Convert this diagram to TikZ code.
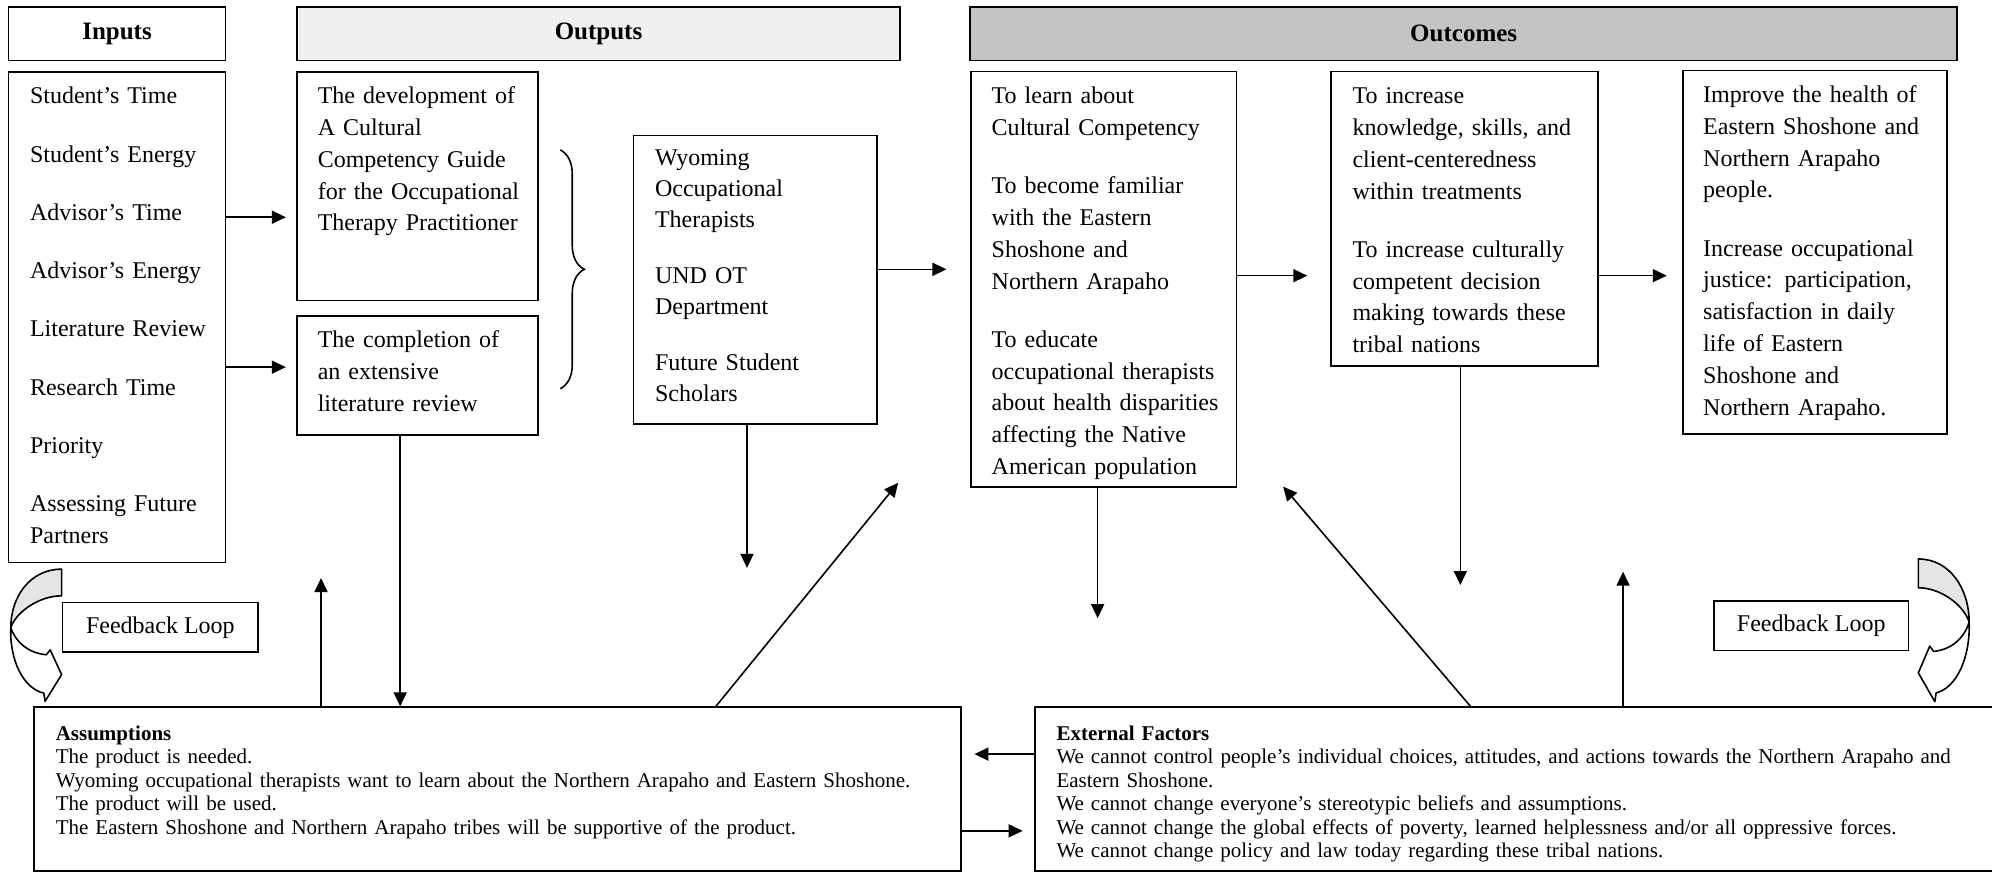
\documentclass[tikz,border=0pt]{standalone}
\usepackage{fontspec}
\setmainfont{Liberation Serif}
\usetikzlibrary{arrows.meta,decorations.pathreplacing}
\newdimen\pxu
\pxu=0.635pt
\tikzset{feedback/.pic={
   \draw[loopback, fill=black!10] (0,0) .. controls (-25,0) and (-40,22) .. (-40,46)
      .. controls (-36,34) and (-18,21) .. (0,21) -- cycle;
   \draw[loopback, fill=white] (-40,46) .. controls (-41,72) and (-30,94) .. (-14,97.6)
      -- (-13,104) -- (0,83) -- (-9,63.5) -- (-12,67.4)
      .. controls (-26,66) and (-36,58) .. (-40,46) -- cycle;
}}
\begin{document}
\begin{tikzpicture}[
   x=0.635pt, y=-0.635pt,
   hdr/.style={draw, line width=0.8pt, anchor=north west, inner sep=0pt,
      font=\fontsize{12.5}{15}\selectfont\bfseries},
   box/.style={draw, line width=0.8pt, anchor=north west, inner ysep=0pt,
      align=left, font=\fontsize{12}{15.9}\selectfont,
      execute at begin node={\rightskip=-40pt plus 1fil\relax}},
   note/.style={draw, line width=0.8pt, anchor=north west, inner ysep=0pt,
      align=left, font=\fontsize{10.5}{11.75}\selectfont,
      execute at begin node={\rightskip=-40pt plus 1fil\relax}},
   tag/.style={draw, line width=0.8pt, anchor=north west, inner sep=0pt,
      font=\fontsize{12}{14}\selectfont},
   arrow/.style={-{Triangle[length=7pt,width=6.5pt]}, line width=0.8pt},
   loopback/.style={line width=0.8pt, line join=round}
]
\useasboundingbox (0,0) rectangle (1568,688);

% Headers
\node[hdr, minimum width=171\pxu, minimum height=42\pxu] (hin) at (6,5) {Inputs};
\node[hdr, fill=black!6, minimum width=475\pxu, minimum height=42\pxu] (hout) at (233,5) {Outputs};
\node[hdr, fill=black!23, minimum width=777\pxu, minimum height=42\pxu] (hoc) at (763,5) {Outcomes};

% Boxes
\node[box, inner xsep=17\pxu, text width=137\pxu, text height=25.2\pxu, text depth=360.8\pxu] (inputs) at (6,56)
   {Student's Time\\[13.2pt] Student's Energy\\[13.2pt] Advisor's Time\\[13.2pt] Advisor's Energy\\[13.2pt]
    Literature Review\\[13.2pt] Research Time\\[13.2pt] Priority\\[13.2pt] Assessing Future\\ Partners};
\node[box, inner xsep=16.5\pxu, text width=157\pxu, text height=25\pxu, text depth=155\pxu] (dev) at (233,56)
   {The development of\\ A Cultural\\ Competency Guide\\ for the Occupational\\ Therapy Practitioner};
\node[box, inner xsep=16.5\pxu, text width=157\pxu, text height=25.3\pxu, text depth=68.7\pxu] (comp) at (233,248)
   {The completion of\\ an extensive\\ literature review};
\node[box, font=\fontsize{12}{15.5}\selectfont, inner xsep=17\pxu, text width=157.5\pxu,
      text height=23.8\pxu, text depth=203.2\pxu] (wyo) at (498,106)
   {Wyoming\\ Occupational\\ Therapists\\[12.4pt] UND OT\\ Department\\[12.4pt] Future Student\\ Scholars};
\node[box, inner xsep=16.4\pxu, text width=176.2\pxu, text height=25.4\pxu, text depth=301.6\pxu] (o1) at (763.6,55.6)
   {To learn about\\ Cultural Competency\\[13.2pt] To become familiar\\ with the Eastern\\ Shoshone and\\
    Northern Arapaho\\[13.2pt] To educate\\ occupational therapists\\ about health disparities\\
    affecting the Native\\ American population};
\node[box, inner xsep=17\pxu, text width=176\pxu, text height=25.4\pxu, text depth=206.4\pxu] (o2) at (1047,55.6)
   {To increase\\ knowledge, skills, and\\ client-centeredness\\ within treatments\\[13.2pt]
    To increase culturally\\ competent decision\\ making towards these\\ tribal nations};
\node[box, inner xsep=16\pxu, text width=176\pxu, text height=25\pxu, text depth=261\pxu] (o3) at (1324,55)
   {Improve the health of\\ Eastern Shoshone and\\ Northern Arapaho\\ people.\\[13.2pt]
    Increase occupational\\ justice: participation,\\ satisfaction in daily\\ life of Eastern\\
    Shoshone and\\ Northern Arapaho.};

% Feedback tags
\node[tag, minimum width=154\pxu, minimum height=39\pxu] (fbl) at (48.6,473.6) {Feedback Loop};
\node[tag, minimum width=153\pxu, minimum height=39\pxu] (fbr) at (1348.6,472.3) {Feedback Loop};

% Bottom notes
\node[note, inner xsep=17.3\pxu, text width=695.4\pxu, text height=26\pxu, text depth=103\pxu] (assump) at (26,556)
   {\textbf{Assumptions}\\ The product is needed.\\
    Wyoming occupational therapists want to learn about the Northern Arapaho and Eastern Shoshone.\\
    The product will be used.\\
    The Eastern Shoshone and Northern Arapaho tribes will be supportive of the product.};
\node[note, inner xsep=17\pxu, text width=723\pxu, text height=26\pxu, text depth=103\pxu] (ext) at (814,556)
   {\textbf{External Factors}\\
    We cannot control people's individual choices, attitudes, and actions towards the Northern Arapaho and\\
    Eastern Shoshone.\\
    We cannot change everyone's stereotypic beliefs and assumptions.\\
    We cannot change the global effects of poverty, learned helplessness and/or all oppressive forces.\\
    We cannot change policy and law today regarding these tribal nations.};

% Feedback loops
\pic at (48.5,448) {feedback};
\pic[xscale=-1, yscale=1.08] at (1510,440) {feedback};

% Arrow ends
\coordinate (t1) at (225,171);
\coordinate (t2) at (225,289);
\coordinate (bt) at (441,118);
\coordinate (bb) at (441,306);
\coordinate (t3) at (745,212);
\coordinate (t4) at (588,447);
\coordinate (c5) at (315,0);
\coordinate (t6) at (252.7,455);
\coordinate (s7) at (563.5,0);
\coordinate (t7) at (707,380);
\coordinate (t8) at (1029,217);
\coordinate (t9) at (1312,217);
\coordinate (t10) at (864,486.6);
\coordinate (t11) at (1149.5,460.5);
\coordinate (s12) at (1157.5,0);
\coordinate (t12) at (1010,383);
\coordinate (t13) at (1277.6,450);
\coordinate (t14) at (767,593.6);
\coordinate (t15) at (805,654);

% Connectors
\draw[arrow] (inputs.east |- t1) -- (t1);
\draw[arrow] (inputs.east |- t2) -- (t2);
\draw[line width=0.8pt, decorate, decoration={brace, amplitude=12pt}] (bt) -- (bb);
\draw[arrow] (wyo.east |- t3) -- (t3);
\draw[arrow] (wyo.south -| t4) -- (t4);
\draw[arrow] (comp.south -| c5) -- (assump.north -| c5);
\draw[arrow] (assump.north -| t6) -- (t6);
\draw[arrow] (assump.north -| s7) -- (t7);
\draw[arrow] (o1.east |- t8) -- (t8);
\draw[arrow] (o2.east |- t9) -- (t9);
\draw[arrow] (o1.south -| t10) -- (t10);
\draw[arrow] (o2.south -| t11) -- (t11);
\draw[arrow] (ext.north -| s12) -- (t12);
\draw[arrow] (ext.north -| t13) -- (t13);
\draw[arrow] (ext.west |- t14) -- (t14);
\draw[arrow] (assump.east |- t15) -- (t15);

\end{tikzpicture}
\end{document}
